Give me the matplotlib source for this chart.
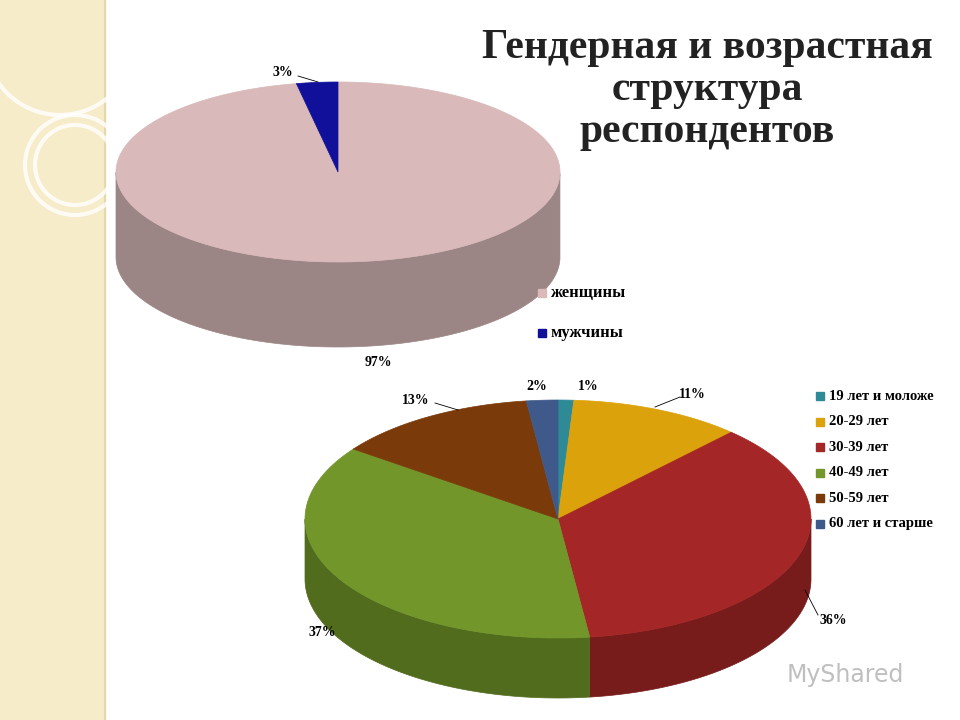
import numpy as np
import matplotlib
matplotlib.use("Agg")
import matplotlib.pyplot as plt
from matplotlib.patches import Polygon, Circle, Rectangle
import matplotlib.colors as mc

gender_labels = ["женщины", "мужчины"]
gender_values = [97, 3]
gender_colors = ["#d9b9b9", "#10109a"]

age_labels = ["19 лет и моложе", "20-29 лет", "30-39 лет", "40-49 лет", "50-59 лет", "60 лет и старше"]
age_values = [1, 11, 36, 37, 13, 2]
age_colors = ["#2f8a98", "#dca20c", "#a52626", "#72962a", "#7a3a0a", "#3f5a8a"]

SERIF = "Liberation Serif"
fig = plt.figure(figsize=(9.6, 7.2), dpi=100)
ax = fig.add_axes([0, 0, 1, 1])
ax.set_xlim(0, 960); ax.set_ylim(720, 0); ax.axis("off")

ax.add_patch(Rectangle((0, 0), 105, 720, color="#f6ecc9", zorder=0))
ax.plot([105, 105], [0, 720], color="#e6d9a8", lw=1.5, zorder=1)
for (x, y, r) in [(60, 40, 75), (75, 165, 50), (75, 165, 40)]:
    ax.add_patch(Circle((x, y), r, fill=False, ec="#ffffff", lw=3, alpha=0.8, zorder=1))

def pie3d(cx, cy, rx, ry, depth, values, colors):
    total = sum(values)
    start = 90.0
    angles = []
    for v in values:
        end = start - 360.0 * v / total
        angles.append((start, end))
        start = end
    def pt(t):
        t = np.radians(t)
        return cx + rx * np.cos(t), cy - ry * np.sin(t)
    for (a0, a1), c in zip(angles, colors):
        ts = np.linspace(a1, a0, 300)
        tt = np.mod(ts, 360)
        mask = (tt > 180) & (tt < 360)
        if not mask.any():
            continue
        idx = np.where(mask)[0]
        runs = np.split(idx, np.where(np.diff(idx) != 1)[0] + 1)
        for run in runs:
            t = ts[run]
            xs, ys = zip(*[pt(v) for v in t])
            xs = np.array(xs); ys = np.array(ys)
            poly = np.vstack([np.c_[xs, ys], np.c_[xs[::-1], ys[::-1] + depth]])
            dark = np.array(mc.to_rgb(c)) * 0.72
            ax.add_patch(Polygon(poly, closed=True, fc=dark, ec=dark, lw=0.5, zorder=2))
    for (a0, a1), c in zip(angles, colors):
        ts = np.linspace(a0, a1, 300)
        pts = [(cx, cy)] + [pt(v) for v in ts]
        ax.add_patch(Polygon(pts, closed=True, fc=c, ec=c, lw=0.5, zorder=3))

pie3d(338, 172, 222, 90, 85, gender_values, gender_colors)
pie3d(558, 519, 253, 119, 60, age_values, age_colors)

ax.text(707, 90, "Гендерная и возрастная\nструктура\nреспондентов", ha="center", va="center",
        fontsize=30, fontweight="bold", family=SERIF, linespacing=1.15, color="#222222")

def lab(x, y, s):
    ax.text(x, y, s, fontsize=10, fontweight="bold", family=SERIF, ha="center", va="center", zorder=5)

lab(283, 72, "3%"); ax.plot([298, 318], [76, 82], color="k", lw=0.6, zorder=5)
lab(378, 362, "97%")
for s, (x, y) in zip(["1%", "11%", "36%", "37%", "13%", "2%"],
                     [(588, 386), (692, 395), (833, 620), (322, 632), (416, 400), (537, 386)]):
    lab(x, y, s)
ax.plot([655, 680], [407, 397], color="k", lw=0.6, zorder=5)
ax.plot([435, 458], [403, 410], color="k", lw=0.6, zorder=5)
ax.plot([805, 818], [590, 615], color="k", lw=0.6, zorder=5)

for i, (l, c) in enumerate(zip(gender_labels, gender_colors)):
    y = 293 + 40 * i
    ax.add_patch(Rectangle((538, y - 4), 8, 8, color=c, zorder=5))
    ax.text(551, y, l, fontsize=12, fontweight="bold", family=SERIF, va="center")
for i, (l, c) in enumerate(zip(age_labels, age_colors)):
    y = 396 + 25.6 * i
    ax.add_patch(Rectangle((816, y - 4), 8, 8, color=c, zorder=5))
    ax.text(829, y, l, fontsize=10.5, fontweight="bold", family=SERIF, va="center")

ax.text(845, 675, "MyShared", fontsize=17, color="#b0b0b0", ha="center", va="center", alpha=0.8)

fig.savefig("out.png", dpi=100)
